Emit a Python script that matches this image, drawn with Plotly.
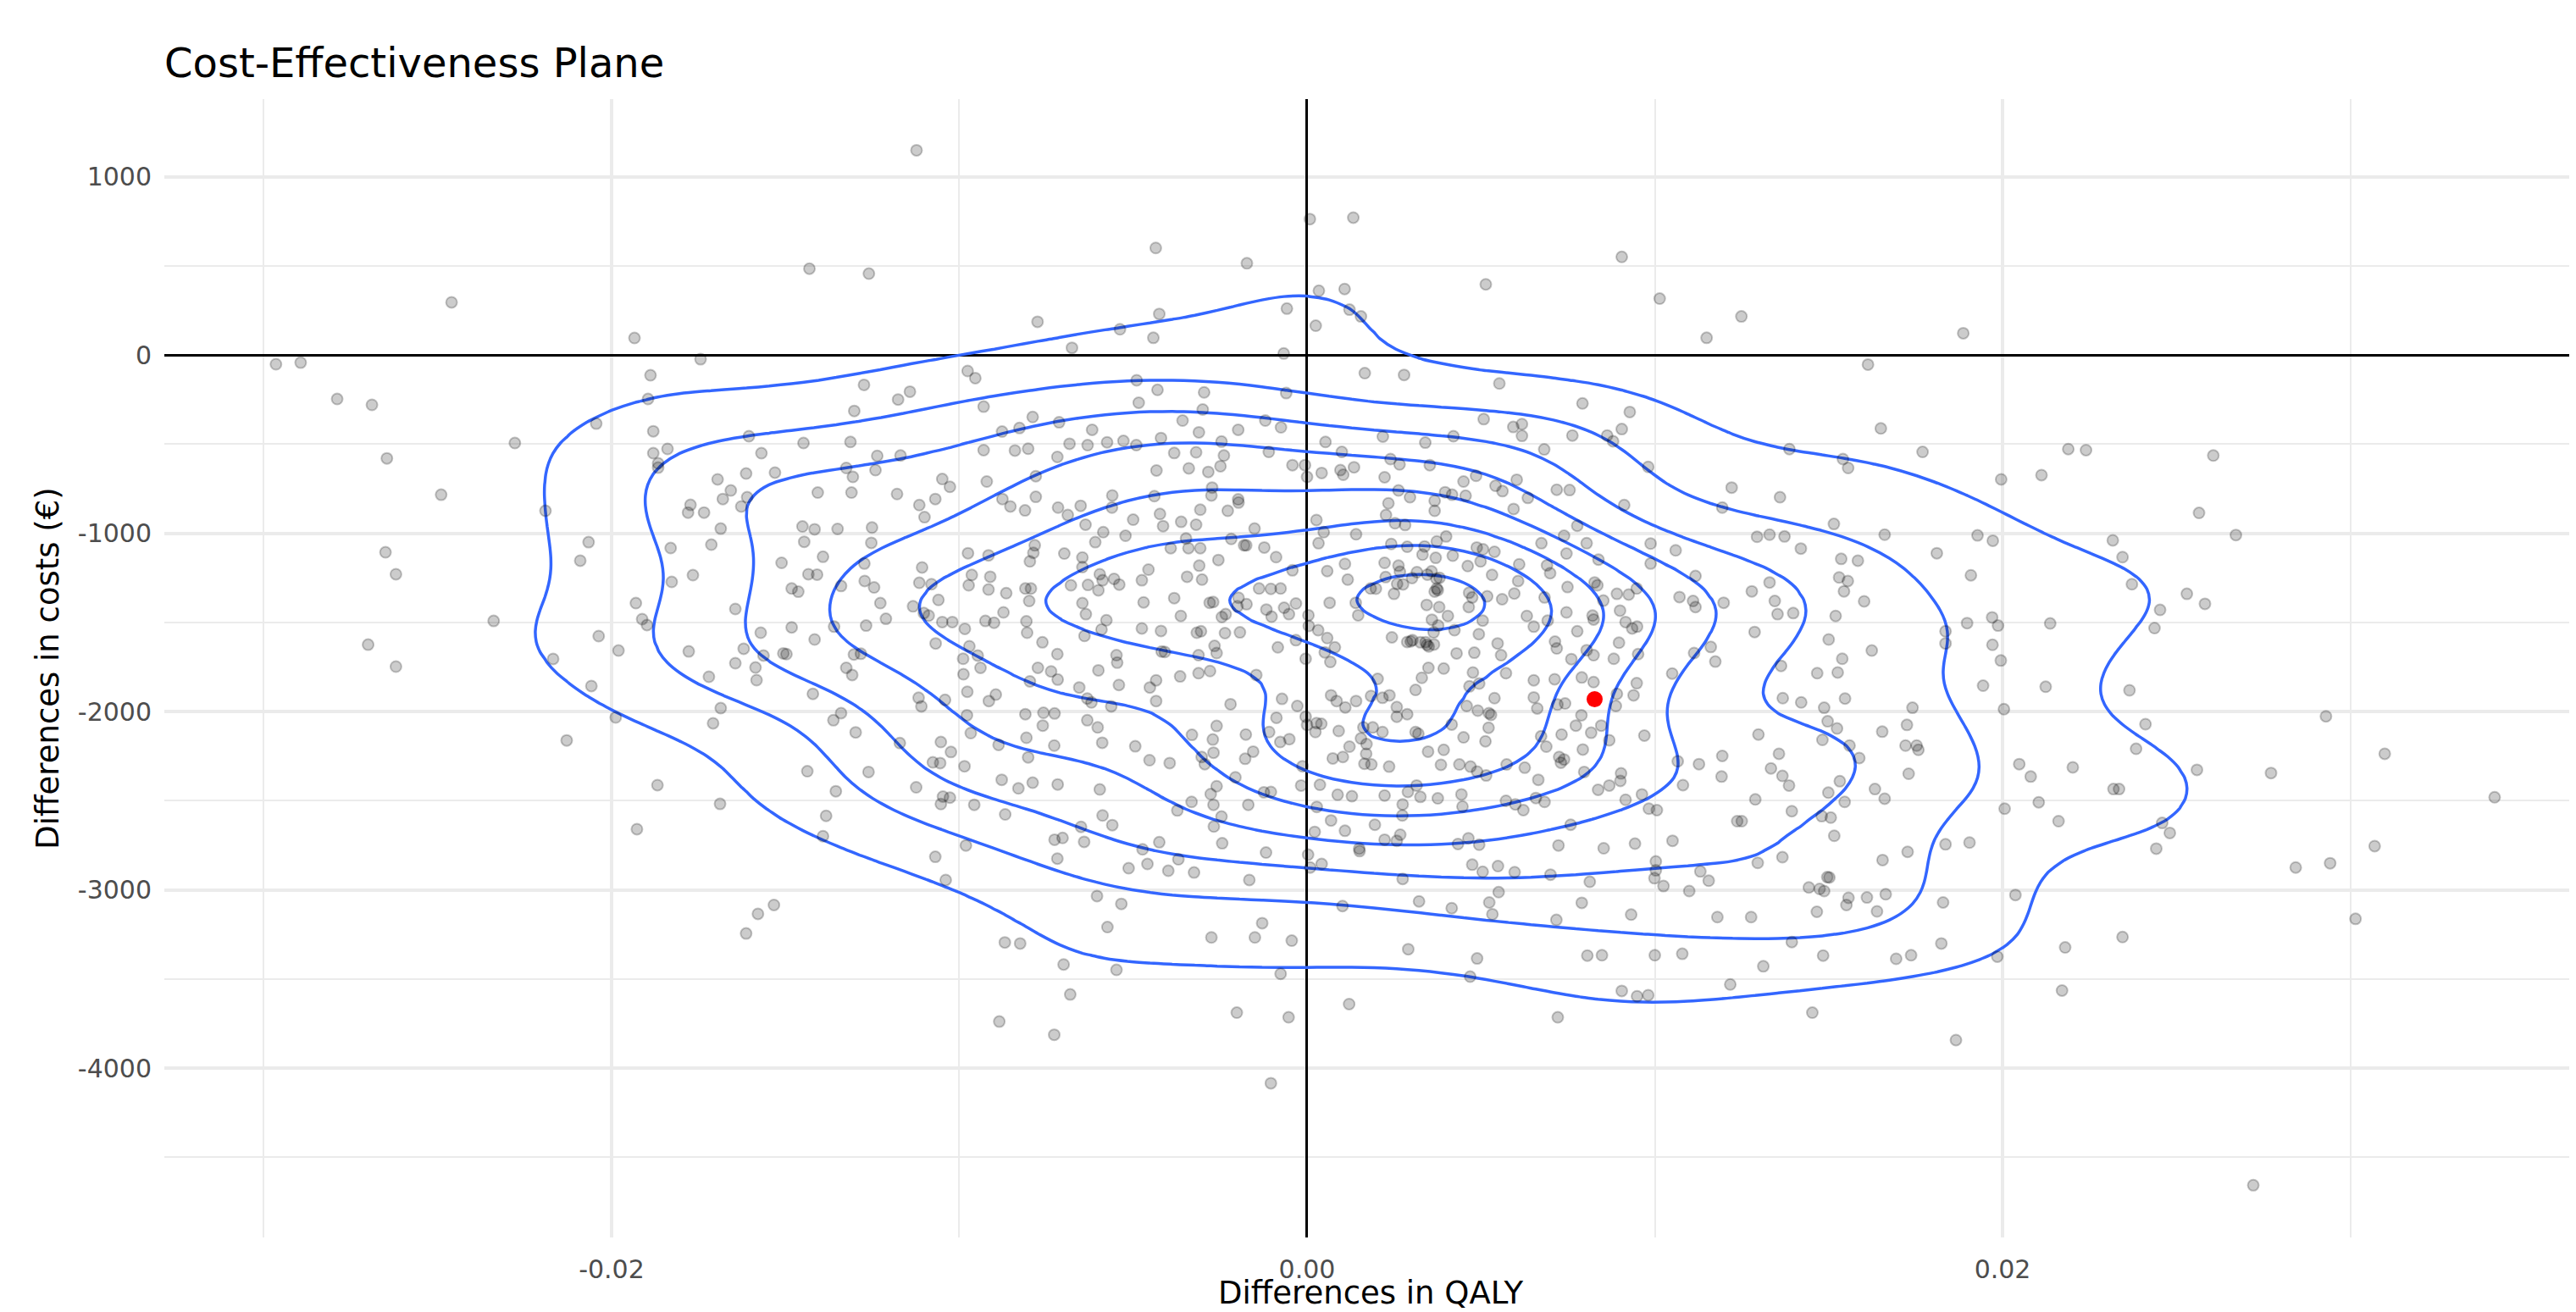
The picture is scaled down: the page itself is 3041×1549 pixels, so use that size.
import numpy as np
import plotly.graph_objects as go

# ---- simulated incremental results (QALY difference, cost difference in EUR) ----
pts_left = [
(-0.0246, 295), (-0.01934, 95), (-0.02965, -52), (-0.02894, -43), (-0.01744, -24), (-0.01888, -114), (-0.02789, -247), (-0.02689, -280), (-0.01895, -247), (-0.02044, -385), (-0.02278, -494), (-0.0188, -428), (-0.01605, -456), (-0.02646, -580), (-0.0188, -551), (-0.01839, -527), (-0.01866, -608), (-0.01569, -551),
(-0.01866, -632), (-0.0249, -784), (-0.0219, -874), (-0.01695, -698), (-0.01613, -665), (-0.01657, -760), (-0.0168, -808), (-0.0161, -798), (-0.01627, -850), (-0.01773, -841), (-0.0178, -884), (-0.01734, -884), (-0.01686, -974), (-0.01713, -1064), (-0.0183, -1083), (-0.02066, -1050), (-0.0209, -1154), (-0.0265, -1107), (-0.0262, -1230), (-0.01827, -1273), (-0.01766, -1235), (-0.0193, -1392), (-0.01644, -1425), (-0.01912, -1482), (-0.01898, -1515), (-0.02339, -1492), (-0.027, -1625), (-0.02037, -1577), (-0.0198, -1658), (-0.01778, -1663), (-0.0162, -1648), (-0.01571, -1558), (-0.0262, -1748), (-0.02168, -1705), (-0.01644, -1729), (-0.01586, -1753), (-0.01583, -1824), (-0.0172, -1805), (-0.02058, -1857), (-0.01686, -1981), (-0.01988, -2033), (-0.01708, -2066), (-0.02129, -2162), (-0.01868, -2413), (-0.01688, -2518), (-0.01927, -2660), (-0.01579, -3135), (-0.01613, -3245),
]

pts_center_upper = [
(-0.01123,1148),(-0.01431,484),(-0.0126,456),(-0.00435,600),(-0.00173,514),(0.00008,762),(0.00133,770),(0.00034,360),(0.00108,370),(-0.00058,260),(0.00122,254),(0.00155,216),(0.00025,164),(-0.00425,230),(-0.00775,186),(-0.00538,144),(-0.00442,96),(-0.00676,40),(-0.00067,8),(0.00166,-102),(0.00279,-112),(-0.00976,-90),(-0.00954,-130),(-0.01274,-168),(-0.01142,-206),(-0.01176,-250),(-0.01302,-314),(-0.0093,-290),(-0.0049,-142),(-0.0043,-196),(-0.00296,-210),(-0.00484,-268),(-0.003,-306),(-0.0006,-214),(-0.00358,-368),(-0.0012,-368),(-0.00075,-406),(-0.00198,-420),(-0.00311,-434),(-0.00789,-348),(-0.00827,-410),(-0.00877,-430),(-0.00713,-378),(-0.00618,-420),
(-0.01448,-494),(-0.01313,-488),(-0.01236,-566),(-0.01169,-564),(-0.0093,-534),(-0.0084,-536),(-0.00802,-526),(-0.00683,-498),(-0.00631,-506),(-0.00575,-490),(-0.00528,-482),(-0.00491,-506),(-0.0042,-466),(-0.00718,-572),(-0.00382,-550),(-0.00319,-546),(-0.00246,-486),(-0.00239,-564),(-0.0011,-544),(0.00053,-488),(0.001,-544),(0.00218,-458),(0.0034,-492),(0.0024,-584),(0.00266,-614),(0.00353,-618),(-0.00042,-618),(-0.00006,-618),(0.00042,-662),(0.00096,-646),(0.00135,-630),(0.00104,-672),(0.0,-684),(0.00223,-686),(-0.01325,-634),(-0.0153,-660),(-0.01241,-646),(-0.01306,-684),(-0.00433,-648),(-0.0034,-636),(-0.00284,-656),(-0.00249,-624),(-0.0078,-680),(-0.01049,-696),(-0.01027,-740),(-0.00921,-710),(-0.01407,-772),(-0.0131,-772),(-0.01179,-780),(-0.01069,-808),(-0.01115,-842),(-0.011,-910),(-0.00876,-808),(-0.00853,-850),(-0.00811,-872),(-0.0078,-796),(-0.00716,-856),(-0.00688,-898),(-0.00651,-846),(-0.00561,-856),(-0.0056,-788),(-0.00439,-792),(-0.00273,-744),(-0.00275,-788),(-0.00307,-868),(-0.00423,-892),(-0.00228,-874),(-0.00197,-828),(-0.00198,-810),(0.00027,-926),(0.00263,-760),(0.00296,-798),(0.00234,-832),(0.00227,-898),(0.00253,-944),(0.00282,-954),(0.00048,-994),(0.00141,-1006),(0.00033,-1056),(0.00242,-1060),(0.00288,-1076),(0.00338,-1074),(0.00332,-1120),(0.00223,-1166),(0.00109,-1172),(0.00263,-1182),(0.00316,-1218),(0.00058,-1212),(0.00117,-1260),(0.00226,-1246),(0.00183,-1310),(0.00259,-1284),(0.0025,-1340),(0.00344,-1402),(0.00065,-1390),(0.0014,-1390),(0.00147,-1460),
]

pts_core = [
(0.00267,-1216),(0.00302,-1251),(0.00346,-1232),(0.00372,-1255),(0.00376,-1319),(0.00367,-1327),(0.00198,-1311),(0.00276,-1287),(0.0038,-1414),(0.00359,-1485),(0.0035,-1635),(0.00298,-1607),(0.00341,-1611),(0.00067,-1722),
]

pts_center_mid = [
(-0.01451,-962),(-0.01416,-978),(-0.0135,-976),(-0.01251,-968),(-0.01446,-1048),(-0.01253,-1054),(-0.01392,-1132),(-0.01511,-1166),(-0.01434,-1230),(-0.01409,-1232),(-0.01482,-1310),(-0.01463,-1328),(-0.0134,-1296),(-0.01273,-1170),(-0.01272,-1268),(-0.01245,-1304),(-0.01227,-1392),(-0.01211,-1480),(-0.01133,-1410),(-0.01107,-1192),(-0.01115,-1278),(-0.0108,-1286),(-0.01102,-1448),(-0.01088,-1462),(-0.0106,-1374),(-0.01049,-1498),(-0.0102,-1498),(-0.00975,-1112),(-0.00964,-1234),(-0.00973,-1292),(-0.00916,-1124),(-0.00911,-1244),(-0.00916,-1316),(-0.00865,-1336),(-0.00925,-1492),(-0.00873,-1444),(-0.009,-1502),(-0.00797,-1158),(-0.00783,-1068),(-0.00787,-1110),(-0.0081,-1310),(-0.00794,-1310),(-0.00799,-1380),(-0.00807,-1494),(-0.00805,-1558),(-0.00761,-1612),(-0.00698,-1114),(-0.00646,-1136),(-0.00637,-952),(-0.00586,-994),(-0.00609,-1050),(-0.00522,-1014),(-0.005,-924),(-0.00646,-1190),(-0.00679,-1292),(-0.00596,-1230),(-0.00588,-1264),(-0.00555,-1256),(-0.0063,-1290),(-0.0054,-1288),(-0.006,-1320),(-0.00646,-1392),(-0.00636,-1454),(-0.00577,-1488),(-0.00591,-1540),(-0.0064,-1576),(-0.00475,-1264),(-0.00456,-1204),(-0.00414,-960),(-0.00362,-936),(-0.00319,-952),(-0.00348,-1030),(-0.00341,-1084),(-0.00392,-1084),(-0.00307,-1084),(-0.00255,-1150),(-0.00218,-1032),(-0.00181,-1068),(-0.00175,-1068),(-0.00151,-974),(-0.00123,-1080),(-0.00089,-1134),(-0.00042,-1208),(-0.0031,-1182),(-0.00345,-1244),(-0.00302,-1260),(-0.0047,-1388),(-0.00382,-1364),(-0.00363,-1464),(-0.0028,-1390),(-0.0027,-1386),(-0.00234,-1454),(-0.00245,-1470),(-0.00197,-1362),(-0.00174,-1398),(-0.002,-1410),(-0.00138,-1310),(-0.00104,-1312),(-0.00076,-1310),(-0.00117,-1428),(-0.00102,-1468),(-0.00066,-1418),(-0.00052,-1454),(-0.00032,-1394),(0.00004,-1460),(0.00005,-1520),(0.00032,-1544),(0.00058,-1588),(0.0008,-1640),(0.00244,-1584),(0.00288,-1610),(0.00303,-1600),(0.00326,-1612),(0.00345,-1626),(-0.00032,-1600),(-0.00084,-1640),(-0.00193,-1556),(-0.00236,-1560),(-0.00305,-1550),(-0.00317,-1558),(-0.00266,-1632),(-0.0026,-1672),(-0.00312,-1684),(-0.00418,-1664),(-0.00409,-1666),(-0.00548,-1684),(-0.00546,-1726),(-0.00718,-1678),(-0.0042,-1548),(-0.00475,-1534),(-0.01482,-1528),(-0.01416,-1596),(-0.0136,-1524),(-0.01268,-1518),(-0.01506,-1674),(-0.01497,-1678),(-0.01563,-1686),(-0.01303,-1680),(-0.01283,-1676),(-0.01068,-1618),(-0.00984,-1536),(-0.00971,-1634),(-0.00989,-1704),(-0.00947,-1686),(-0.00004,-1704),(0.00051,-1668),(0.00364,-1556),
]

pts_center_lower = [
(-0.01325,-1755),(-0.01308,-1795),(-0.01421,-1901),(-0.0134,-2009),(-0.01362,-2049),(-0.01298,-2117),(-0.01437,-2335),(-0.01261,-2339),(-0.01355,-2447),(-0.01383,-2585),(-0.01392,-2699),(-0.01533,-3085),(-0.01171,-2177),(-0.01117,-1923),(-0.01109,-1971),(-0.01041,-1935),(-0.01053,-2171),(-0.01024,-2227),(-0.01076,-2285),(-0.01055,-2289),(-0.01124,-2425),(-0.01047,-2477),(-0.01027,-2483),(-0.01053,-2519),(-0.00985,-2307),(-0.00957,-2523),(-0.00981,-2751),(-0.01069,-2815),(-0.01039,-2945),(-0.00988,-1791),(-0.00977,-1889),(-0.00978,-2021),(-0.00967,-2121),(-0.00939,-1755),(-0.00915,-1941),(-0.00895,-1905),(-0.00887,-2187),(-0.00878,-2383),(-0.00868,-2577),(-0.0083,-2431),(-0.00789,-2399),(-0.0081,-2015),(-0.00797,-1831),(-0.00774,-1755),(-0.0076,-2079),(-0.00758,-2007),(-0.00726,-2011),(-0.00807,-2147),(-0.00802,-2257),(-0.00736,-1775),(-0.00717,-1821),(-0.00727,-2191),(-0.00717,-2409),(-0.00726,-2719),(-0.00703,-2709),(-0.00718,-2825),(-0.00869,-3295),(-0.00825,-3301),(-0.007,-3419),(-0.00681,-3587),(-0.00885,-3739),(-0.00727,-3813),(-0.00655,-1865),(-0.00632,-1927),(-0.0062,-1949),(-0.006,-1769),(-0.00563,-1971),(-0.00541,-1851),(-0.00632,-2049),(-0.00602,-2089),(-0.00589,-2175),(-0.00596,-2437),(-0.0065,-2647),(-0.00641,-2731),(-0.00588,-2583),(-0.0056,-2637),(-0.00604,-3035),(-0.00534,-3079),(-0.00574,-3209),(-0.00548,-3449),(-0.00452,-1865),(-0.00434,-1825),(-0.00434,-1941),(-0.00494,-2195),(-0.00453,-2273),(-0.00395,-2289),(-0.00365,-1803),(-0.00312,-1785),(-0.00279,-1773),(-0.00146,-1795),(-0.0022,-1959),(-0.00331,-2131),(-0.0026,-2081),(-0.00271,-2157),(-0.00269,-2231),(-0.00303,-2255),(-0.00294,-2295),(-0.00176,-2129),(-0.00109,-2115),(-0.00077,-2171),(-0.00051,-2155),(-0.00072,-1929),(-0.00088,-2035),(-0.00028,-1969),(-0.00004,-2029),(0.0,-2075),(0.00027,-2065),(0.00041,-2069),(0.00024,-2115),(-0.00155,-2225),(-0.00178,-2265),(-0.00206,-2369),(-0.0026,-2419),(-0.00277,-2463),(-0.00269,-2523),(-0.00246,-2589),(-0.00268,-2645),(-0.00244,-2739),(-0.00169,-2523),(-0.00332,-2507),(-0.00373,-2555),(-0.00124,-2453),(-0.00104,-2451),(-0.00118,-2791),(-0.00013,-2307),(-0.00017,-2415),(0.00037,-2411),(0.00028,-2535),(0.00022,-2675),(0.00003,-2803),(0.00009,-2875),(0.00042,-2855),(-0.00166,-2945),(-0.00473,-2773),(-0.00425,-2733),(-0.0037,-2829),(-0.00459,-2855),(-0.00513,-2879),(-0.00399,-2893),(-0.00325,-2903),(-0.00129,-3187),(-0.00275,-3267),(-0.0015,-3267),(-0.00044,-3285),(-0.00076,-3471),(-0.00202,-3689),(-0.00053,-3715),(-0.00104,-4085),(0.00102,-3091),(0.00121,-3641),(0.00291,-3333),(0.00322,-3065),(0.00275,-2939),(0.00069,-1909),(0.00085,-1941),(0.0011,-1977),(0.00141,-1941),(0.00184,-1913),(0.00217,-1923),(0.00237,-1909),(0.00203,-1817),(0.00258,-1975),(0.00258,-2029),(0.00288,-2015),(0.00312,-1879),(0.0033,-1811),(0.00349,-1755),(0.00091,-2109),(0.00162,-2089),(0.00189,-2089),(0.00217,-2115),(0.00155,-2151),(0.00171,-2183),(0.00122,-2197),(0.0017,-2237),(0.00074,-2263),(0.00103,-2255),(0.00165,-2293),(0.00185,-2297),(0.00236,-2309),(0.00312,-2115),(0.0032,-2125),(0.00348,-2225),(0.00315,-2415),(0.0029,-2451),(0.00326,-2479),(0.00088,-2467),(0.00129,-2475),(0.00223,-2471),(0.00275,-2521),(0.00274,-2583),(0.00069,-2611),(0.00109,-2669),(0.00195,-2635),(0.00268,-2691),(0.00223,-2719),(0.00258,-2725),(0.0015,-2769),(0.00151,-2783),
]

pts_right_upper = [
(0.00905,550),(0.00514,396),(0.01014,316),(0.01249,216),(0.01149,96),(0.01887,122),(0.01613,-54),(0.00553,-160),(0.00792,-272),(0.00928,-320),(0.00508,-360),(0.00593,-404),(0.00618,-388),(0.00618,-454),(0.00421,-456),(0.00763,-452),(0.00863,-452),(0.0088,-484),(0.00905,-416),(0.00682,-530),(0.0165,-412),(0.01387,-528),(0.0177,-544),(0.02189,-528),(0.0224,-534),(0.01541,-584),(0.01556,-634),(0.00981,-628),(0.01996,-698),(0.02112,-674),(0.01221,-744),(0.0136,-798),(0.01194,-856),(0.00912,-842),(0.0045,-710),(0.00486,-678),(0.00542,-734),(0.00562,-764),(0.00603,-700),(0.00635,-802),(0.00718,-756),(0.00755,-758),(0.00397,-770),(0.00417,-784),(0.00456,-790),(0.00367,-818),(0.00367,-874),(0.00594,-864),(0.00777,-958),(0.00739,-1014),(0.004,-1018),(0.00674,-1056),(0.00804,-1056),(0.00988,-1058),(0.0106,-1096),(0.00488,-1080),(0.00506,-1090),(0.00539,-1104),(0.00373,-1046),(0.0037,-1138),(0.00419,-1126),(0.00462,-1184),(0.00499,-1158),(0.0061,-1174),(0.0069,-1180),(0.00699,-1224),(0.00746,-1114),(0.00838,-1148),(0.00988,-1170),(0.00532,-1234),(0.00607,-1268),(0.00381,-1250),(0.00358,-1214),(0.00466,-1334),(0.00475,-1360),(0.00518,-1354),(0.00561,-1370),(0.00596,-1338),(0.00465,-1414),(0.00405,-1464),(0.00373,-1310),(0.00683,-1360),(0.00749,-1302),(0.00827,-1276),(0.00835,-1292),(0.00891,-1340),(0.00925,-1344),(0.00948,-1310),(0.00852,-1378),(0.00746,-1444),(0.00632,-1464),(0.00652,-1524),(0.00692,-1490),(0.00505,-1490),(0.00494,-1566),(0.00424,-1544),(0.00377,-1518),(0.00365,-1624),(0.00548,-1618),(0.00558,-1684),(0.00481,-1670),(0.0043,-1674),(0.00713,-1608),(0.00777,-1550),(0.00821,-1462),(0.00824,-1484),(0.00804,-1656),(0.00824,-1684),(0.0076,-1706),(0.00718,-1646),(0.009,-1434),(0.00916,-1498),(0.00935,-1534),(0.00949,-1524),(0.00897,-1614),(0.00882,-1704),(0.00952,-1678),(0.01117,-1240),(0.01071,-1358),(0.0111,-1380),(0.01117,-1414),(0.01198,-1390),(0.01113,-1672),(0.01161,-1638),(0.01174,-1720),(0.01279,-1326),(0.0133,-1276),(0.01345,-1380),(0.01353,-1454),(0.01398,-1448),(0.01287,-1554),(0.01294,-1020),(0.0133,-1008),(0.01373,-1018),(0.0142,-1086),(0.01515,-948),(0.01536,-1144),(0.01584,-1154),(0.0153,-1248),(0.01555,-1268),(0.01544,-1326),(0.01602,-1382),(0.0152,-1464),(0.015,-1596),(0.01539,-1704),(0.01624,-1658),(0.01661,-1008),(0.01811,-1112),(0.01928,-1012),(0.01972,-1042),(0.01909,-1236),(0.01836,-1550),(0.01836,-1618),(0.01898,-1504),(0.0197,-1472),(0.01987,-1518),(0.01971,-1626),(0.01995,-1714),(0.02137,-1506),(0.02317,-1040),(0.02345,-1134),(0.01363,-1744),
]

pts_far_right = [
(0.02606,-564),(0.02565,-886),(0.02671,-1010),(0.02372,-1286),(0.0253,-1340),(0.02582,-1396),(0.02453,-1430),(0.02437,-1532),(0.02365,-1881),(0.02411,-2071),(0.02384,-2209),(0.02335,-2435),(0.02559,-2327),(0.02772,-2345),(0.0293,-2027),(0.03099,-2237),(0.03415,-2481),(0.02459,-2625),(0.02481,-2681),(0.02442,-2769),(0.02843,-2875),(0.02942,-2851),(0.0307,-2755),(0.03015,-3163),(0.02345,-3265),(0.02721,-4657),
]

pts_right_lower = [
(0.00393,-1759),(0.00477,-1781),(0.00572,-1785),(0.00652,-1825),(0.00712,-1819),(0.0079,-1809),(0.00824,-1835),(0.00467,-1859),(0.00495,-1843),(0.00539,-1925),(0.00459,-1969),(0.00491,-1995),(0.00523,-2009),(0.00529,-2019),(0.00652,-1921),(0.00662,-1983),(0.0072,-1961),(0.00742,-1955),(0.00789,-2021),(0.00891,-1901),(0.00939,-1909),(0.00948,-1841),(0.00888,-1969),(0.00416,-2073),(0.00522,-2091),(0.0045,-2145),(0.00513,-2167),(0.00393,-2215),(0.00673,-2139),(0.00732,-2129),(0.00773,-2079),(0.00817,-2119),(0.00846,-2079),(0.00869,-2161),(0.00688,-2197),(0.00793,-2213),(0.00725,-2255),(0.00739,-2269),(0.0073,-2287),(0.0097,-2135),(0.00385,-2299),(0.00438,-2297),(0.0047,-2309),(0.00489,-2337),(0.00515,-2359),(0.00574,-2297),(0.00626,-2315),(0.00665,-2383),(0.00797,-2339),(0.00903,-2347),(0.00901,-2389),(0.00869,-2415),(0.00837,-2439),(0.00376,-2487),(0.00444,-2465),(0.00447,-2533),(0.00572,-2501),(0.00599,-2521),(0.00622,-2553),(0.00658,-2485),(0.00683,-2507),(0.00916,-2495),(0.00963,-2465),(0.00983,-2545),(0.01006,-2553),(0.00758,-2635),(0.00434,-2743),(0.00464,-2711),(0.00495,-2747),(0.00723,-2751),(0.00853,-2767),(0.00943,-2741),(0.01051,-2725),(0.00475,-2859),(0.00505,-2899),(0.00549,-2867),(0.00597,-2901),(0.007,-2915),(0.00813,-2955),(0.00551,-3013),(0.00524,-3071),(0.00533,-3137),(0.00416,-3103),(0.0079,-3073),(0.00717,-3169),(0.00932,-3139),(0.01003,-2841),(0.01003,-2891),(0.00999,-2935),(0.01025,-2979),(0.00489,-3385),(0.00469,-3487),(0.00806,-3369),(0.00848,-3367),(0.01,-3367),(0.01079,-3359),(0.00905,-3567),(0.00949,-3597),(0.00981,-3591),(0.00721,-3715),(0.0105,-1787),(0.01066,-2279),(0.01127,-2295),(0.01194,-2249),(0.01192,-2365),(0.01081,-2413),(0.01131,-2897),(0.01155,-2949),(0.01099,-3007),(0.0118,-3153),(0.01277,-3153),(0.01217,-3531),(0.01312,-3429),(0.01394,-3293),(0.01484,-3369),(0.01453,-3689),(0.01298,-2129),(0.01357,-2237),(0.01334,-2319),(0.01367,-2361),(0.01386,-2415),(0.01289,-2493),(0.01394,-2559),(0.01237,-2615),(0.0125,-2615),(0.01296,-2849),(0.01367,-2817),(0.01368,-1925),(0.01421,-1949),
(0.01467,-1785),(0.01526,-1781),(0.01487,-1979),(0.01547,-1927),(0.01497,-2055),(0.01524,-2095),(0.01482,-2159),(0.0156,-2191),(0.01588,-2261),(0.01532,-2391),(0.01499,-2455),(0.01546,-2507),(0.0148,-2587),(0.01506,-2595),(0.01516,-2697),(0.01633,-2435),(0.01661,-2489),(0.01654,-2113),(0.01741,-1979),(0.01725,-2075),(0.01721,-2191),(0.01753,-2191),(0.01758,-2215),(0.0173,-2349),(0.01727,-2787),(0.01655,-2833),(0.01443,-2987),(0.01474,-2995),(0.01496,-2929),(0.01502,-2931),(0.01487,-3007),(0.01551,-3085),(0.01557,-3045),(0.0161,-3043),(0.01664,-3025),(0.01639,-3121),(0.01466,-3123),(0.01829,-3071),(0.01824,-3301),(0.01694,-3387),(0.01737,-3367),(0.01836,-2745),(0.01905,-2735),(0.01866,-3843),(0.01944,-1855),(0.02004,-1987),(0.02124,-1861),(0.02048,-2295),(0.02081,-2365),(0.02202,-2313),(0.02104,-2509),(0.02161,-2615),(0.02006,-2545),(0.02037,-3029),(0.01985,-3375),(0.0218,-3323),(0.02171,-3565),(0.02319,-2435),
]

# point estimate (mean incremental QALY, mean incremental cost)
mean_qaly = [0.00827]
mean_cost = [-1931]

x_tick_vals = [-0.02, 0.0, 0.02]
x_tick_text = ["-0.02", "0.00", "0.02"]
y_tick_vals = [1000, 0, -1000, -2000, -3000, -4000]
y_tick_text = ["1000", "0", "-1000", "-2000", "-3000", "-4000"]

# ---- assemble ----
all_pts = (pts_left + pts_center_upper + pts_core + pts_center_mid + pts_center_lower
           + pts_right_upper + pts_far_right + pts_right_lower)
qaly = np.array([p[0] for p in all_pts], dtype=float)
cost = np.array([p[1] for p in all_pts], dtype=float)

# ---- 2D kernel density (as MASS::kde2d with bandwidth.nrd, like ggplot's geom_density_2d) ----
def bw_nrd(v):
    q75, q25 = np.percentile(v, [75, 25])
    return 4 * 1.06 * min(np.std(v, ddof=1), (q75 - q25) / 1.34) * len(v) ** (-0.2)

hx = bw_nrd(qaly) / 4
hy = bw_nrd(cost) / 4
xa = np.concatenate([qaly, mean_qaly]); ya = np.concatenate([cost, mean_cost])
gx = np.linspace(xa.min(), xa.max(), 100)
gy = np.linspace(ya.min(), ya.max(), 100)
kx = np.exp(-0.5 * ((gx[:, None] - qaly[None, :]) / hx) ** 2) / np.sqrt(2 * np.pi)
ky = np.exp(-0.5 * ((gy[:, None] - cost[None, :]) / hy) ** 2) / np.sqrt(2 * np.pi)
z = kx @ ky.T / (len(qaly) * hx * hy)   # shape (nx, ny)

def pretty_unit(hi, n=10):
    cell = hi / n
    U = 10 ** np.floor(np.log10(cell))
    unit = U
    if 2 * U - cell < 1.5 * (cell - unit):
        unit = 2 * U
        if 5 * U - cell < 2.75 * (cell - unit):
            unit = 5 * U
            if 10 * U - cell < 1.5 * (cell - unit):
                unit = 10 * U
    return unit

zmax = z.max()
unit = pretty_unit(zmax)
lev_end = unit * np.floor(zmax / unit)

BLUE = "#3366FF"
FONT = "DejaVu Sans"

fig = go.Figure()
fig.add_trace(go.Scatter(
    x=qaly, y=cost, mode="markers",
    marker=dict(size=13, color="rgba(0,0,0,0.2)",
                line=dict(color="rgba(0,0,0,0.22)", width=2)),
    hoverinfo="skip", showlegend=False))
fig.add_trace(go.Contour(
    x=gx, y=gy, z=z.T,
    contours=dict(coloring="lines", start=unit, end=lev_end, size=unit, showlabels=False),
    colorscale=[[0, BLUE], [1, BLUE]], showscale=False,
    line=dict(width=3.5, smoothing=1.0), hoverinfo="skip", showlegend=False))
fig.add_trace(go.Scatter(
    x=mean_qaly, y=mean_cost, mode="markers",
    marker=dict(size=19, color="red"), hoverinfo="skip", showlegend=False))

# the page body adds an 8 px offset; the figure is sized to fill the rest of the window
W, H = 3033, 1541
M_T, M_B = 109, 88
plot_h = H - M_T - M_B
grid = "#ebebeb"
fig.update_layout(
    width=W, height=H,
    margin=dict(l=186, r=0, t=M_T, b=M_B, autoexpand=False),
    paper_bgcolor="white", plot_bgcolor="white",
    font=dict(family=FONT, color="#4d4d4d"),
    title=dict(text="Cost-Effectiveness Plane", font=dict(size=48, color="black", family=FONT),
               x=0, xref="paper", xanchor="left", y=1 - 66 / H, yref="container", yanchor="middle"),
    showlegend=False,
    xaxis=dict(
        range=[-0.03286, 0.03649], tickmode="array", tickvals=x_tick_vals, ticktext=x_tick_text,
        showgrid=True, gridcolor=grid, gridwidth=3.5, automargin=False,
        minor=dict(tickmode="linear", tick0=0, dtick=0.01, showgrid=True, gridcolor=grid, gridwidth=1.8, ticks=""),
        zeroline=True, zerolinecolor="black", zerolinewidth=3,
        showline=False, ticks="", ticklabelstandoff=17,
        tickfont=dict(size=30, color="#4d4d4d", family=FONT),
    ),
    yaxis=dict(
        range=[-4950, 1435], tickmode="array", tickvals=y_tick_vals, ticktext=y_tick_text,
        showgrid=True, gridcolor=grid, gridwidth=3.5, automargin=False,
        minor=dict(tickmode="linear", tick0=0, dtick=500, showgrid=True, gridcolor=grid, gridwidth=1.8, ticks=""),
        zeroline=True, zerolinecolor="black", zerolinewidth=3,
        showline=False, ticks="", ticklabelstandoff=14,
        tickfont=dict(size=30, color="#4d4d4d", family=FONT),
        title=dict(text="Differences in costs (€)", font=dict(size=37, color="black", family=FONT), standoff=10),
    ),
    annotations=[dict(
        text="Differences in QALY", xref="paper", yref="paper", x=0.5, y=-65 / plot_h,
        xanchor="center", yanchor="middle", showarrow=False,
        font=dict(size=37, color="black", family=FONT))],
)

fig.write_html("out.html")
